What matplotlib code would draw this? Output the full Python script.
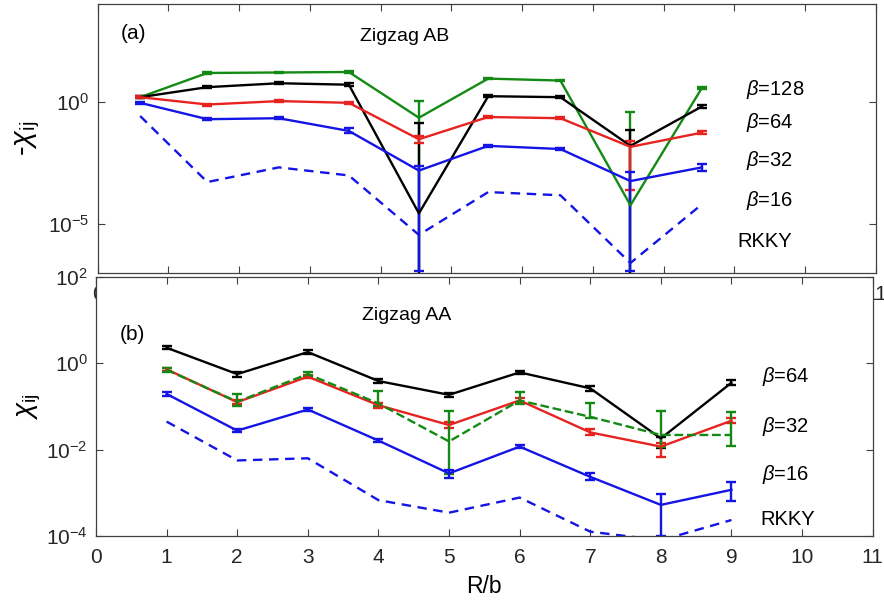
import numpy as np
import matplotlib
matplotlib.use("Agg")
import matplotlib.pyplot as plt
from matplotlib.ticker import NullLocator

plt.rcParams['font.family'] = ['Liberation Sans', 'DejaVu Sans']
plt.rcParams['mathtext.fontset'] = 'custom'
plt.rcParams['mathtext.rm'] = 'Liberation Sans'
plt.rcParams['mathtext.it'] = 'Liberation Sans:italic'
plt.rcParams['mathtext.bf'] = 'Liberation Sans:bold'
plt.rcParams['axes.unicode_minus'] = False

# zigzag AB pairs (values are log10 of -chi)
x_ab = [0.6, 1.55, 2.56, 3.55, 4.54, 5.52, 6.54, 7.53, 8.54]

ab128 = [0.19, 1.18, 1.20, 1.22, -0.65, 0.95, 0.87, -4.23, 0.57]
ab128_hi = [0.22, 1.21, 1.23, 1.26, 0.03, 0.98, 0.90, -0.42, 0.62]
ab128_lo = [0.16, 1.15, 1.17, 1.18, -9, 0.92, 0.84, -9, 0.52]

ab64 = [0.19, 0.60, 0.76, 0.70, -4.56, 0.23, 0.19, -1.80, -0.19]
ab64_hi = [0.22, 0.65, 0.80, 0.75, -0.88, 0.27, 0.24, -1.16, -0.13]
ab64_lo = [0.16, 0.55, 0.72, 0.65, -9, 0.19, 0.14, -9, -0.25]

ab32 = [0.19, -0.11, 0.03, -0.04, -1.53, -0.62, -0.67, -1.84, -1.26]
ab32_hi = [0.22, -0.07, 0.06, 0.0, -1.39, -0.58, -0.63, -1.59, -1.20]
ab32_lo = [0.16, -0.15, 0.0, -0.08, -1.70, -0.66, -0.71, -3.62, -1.32]

ab16 = [-0.04, -0.71, -0.67, -1.19, -2.81, -1.80, -1.93, -3.24, -2.68]
ab16_hi = [0.0, -0.67, -0.63, -1.05, -2.61, -1.76, -1.89, -2.85, -2.54]
ab16_lo = [-0.08, -0.75, -0.71, -1.29, -6.93, -1.84, -1.97, -6.93, -2.81]

rkky_ab = [-0.58, -3.28, -2.68, -3.01, -5.44, -3.69, -3.82, -6.59, -4.19]

# zigzag AA pairs (log10 of chi)
x_aa = [1, 2, 3, 4, 5, 6, 7, 8, 9]

aa64 = [0.36, -0.25, 0.26, -0.41, -0.73, -0.21, -0.58, -1.74, -0.45]
aa64_hi = [0.40, -0.19, 0.30, -0.37, -0.69, -0.17, -0.52, -1.70, -0.39]
aa64_lo = [0.32, -0.31, 0.22, -0.45, -0.77, -0.25, -0.64, -1.97, -0.51]

aa32 = [-0.14, -0.90, -0.31, -0.97, -1.43, -0.86, -1.60, -1.93, -1.33]
aa32_hi = [-0.10, -0.85, -0.27, -0.91, -1.35, -0.81, -1.53, -1.85, -1.27]
aa32_lo = [-0.18, -0.95, -0.35, -1.04, -1.51, -0.91, -1.66, -2.18, -1.39]

aa32g = [-0.15, -0.89, -0.25, -0.93, -1.81, -0.86, -1.24, -1.66, -1.66]
aa32g_hi = [-0.10, -0.70, -0.19, -0.63, -1.10, -0.66, -0.93, -1.10, -1.12]
aa32g_lo = [-0.20, -0.99, -0.31, -1.00, -2.56, -0.95, -1.27, -1.93, -1.92]

aa16 = [-0.71, -1.56, -1.07, -1.79, -2.55, -1.93, -2.63, -3.28, -2.93]
aa16_hi = [-0.67, -1.52, -1.03, -1.75, -2.47, -1.89, -2.55, -3.03, -2.74]
aa16_lo = [-0.75, -1.60, -1.11, -1.83, -2.66, -1.97, -2.70, -3.99, -3.18]

rkky_aa = [-1.35, -2.25, -2.20, -3.17, -3.46, -3.11, -3.90, -4.10, -3.63]

GREEN = '#138a13'
RED = '#e8231f'
BLUE = '#1414e6'
BLACK = '#000000'
AXC = '#404040'


def ebar(ax, x, y, hi, lo, color, ls='-'):
    y = 10.0 ** np.array(y)
    up = 10.0 ** np.array(hi) - y
    dn = y - 10.0 ** np.array(lo)
    ax.errorbar(x, y, yerr=[dn, up], color=color, ls=ls, lw=1.7,
                elinewidth=1.7, capsize=3.5, capthick=1.7)


def style(ax):
    ax.set_yscale('log')
    ax.set_xlim(0, 11)
    ax.set_xticks(range(0, 12))
    ax.yaxis.set_minor_locator(NullLocator())
    ax.tick_params(direction='in', length=5, width=0.8, top=True, right=True,
                   colors=AXC, labelcolor='#262626', labelsize=15)
    ax.tick_params(axis='x', pad=8.5)
    ax.tick_params(axis='y', pad=6)
    for s in ax.spines.values():
        s.set_color(AXC)
        s.set_linewidth(0.9)


fig = plt.figure(figsize=(8.84, 6.07), dpi=100)

# (a) zigzag AB
ax1 = fig.add_axes([0.1105, 0.5502, 0.8804, 0.4432])
style(ax1)
ebar(ax1, x_ab, ab128, ab128_hi, ab128_lo, GREEN)
ebar(ax1, x_ab, ab64, ab64_hi, ab64_lo, BLACK)
ebar(ax1, x_ab, ab32, ab32_hi, ab32_lo, RED)
ebar(ax1, x_ab, ab16, ab16_hi, ab16_lo, BLUE)
ax1.plot(x_ab, 10.0 ** np.array(rkky_ab), color=BLUE, lw=1.7, dashes=(4, 2.8))
ax1.set_ylim(1e-7, 1e4)
ax1.set_yticks([1e-5, 1e0])
ax1.set_ylabel(r'-$\chi_{\mathrm{ij}}$', fontsize=21)
ax1.yaxis.set_label_coords(-0.072, 0.5)
ax1.text(0.029, 0.892, '(a)', transform=ax1.transAxes, fontsize=15, va='center')
ax1.text(0.337, 0.878, 'Zigzag AB', transform=ax1.transAxes, fontsize=14, va='center')
for lbl, yy in [(r'$\beta$=128', 0.683), (r'$\beta$=64', 0.559),
                (r'$\beta$=32', 0.417), (r'$\beta$=16', 0.271)]:
    ax1.text(0.833, yy, lbl, transform=ax1.transAxes, fontsize=14.5, va='center')
ax1.text(0.822, 0.116, 'RKKY', transform=ax1.transAxes, fontsize=14.5, va='center')

# (b) zigzag AA
ax2 = fig.add_axes([0.1086, 0.1170, 0.8786, 0.4267])
ax2.set_facecolor('white')
style(ax2)
ebar(ax2, x_aa, aa64, aa64_hi, aa64_lo, BLACK)
ebar(ax2, x_aa, aa32, aa32_hi, aa32_lo, RED)
ebar(ax2, x_aa, aa32g, aa32g_hi, aa32g_lo, GREEN, ls='--')
ebar(ax2, x_aa, aa16, aa16_hi, aa16_lo, BLUE)
ax2.plot(x_aa, 10.0 ** np.array(rkky_aa), color=BLUE, lw=1.7, dashes=(4, 2.8))
ax2.set_ylim(1e-4, 1e2)
ax2.set_yticks([1e-4, 1e-2, 1e0, 1e2])
ax2.set_ylabel(r'$\chi_{\mathrm{ij}}$', fontsize=20)
ax2.yaxis.set_label_coords(-0.068, 0.5)
ax2.set_xlabel('R/b', fontsize=16.5, labelpad=6)
ax2.text(0.031, 0.776, '(b)', transform=ax2.transAxes, fontsize=15, va='center')
ax2.text(0.342, 0.853, 'Zigzag AA', transform=ax2.transAxes, fontsize=14, va='center')
for lbl, yy in [(r'$\beta$=64', 0.615), (r'$\beta$=32', 0.422), (r'$\beta$=16', 0.236)]:
    ax2.text(0.858, yy, lbl, transform=ax2.transAxes, fontsize=14.5, va='center')
ax2.text(0.855, 0.062, 'RKKY', transform=ax2.transAxes, fontsize=14.5, va='center')

fig.savefig('out.png', dpi=100, facecolor='white')
